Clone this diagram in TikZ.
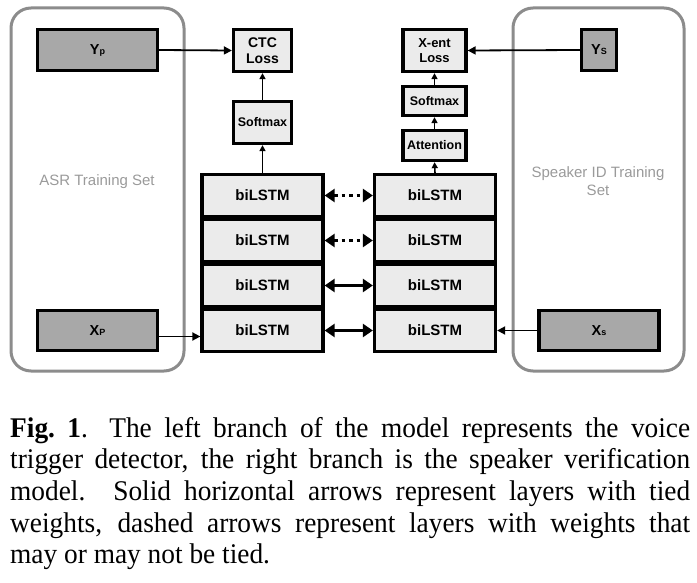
\documentclass[tikz,border=0pt]{standalone}
\usepackage{fontspec}
\setmainfont{Liberation Serif}[FakeStretch=0.96]
\newfontfamily\labfont{Liberation Sans}
\usetikzlibrary{arrows.meta}
\definecolor{framegray}{HTML}{8C8C8C}
\definecolor{textgray}{HTML}{9A9A9A}
\definecolor{darkfill}{HTML}{A8A8A8}
\definecolor{lightfill}{HTML}{EBEBEB}
\tikzset{
  frame/.style={draw=framegray, line width=3pt, rounded corners=20pt},
  lbox/.style={draw=black, fill=lightfill, line width=3.3pt, inner sep=0pt, align=center,
    font=\labfont\bfseries\fontsize{12.5}{14.5}\selectfont},
  lstm/.style={lbox, minimum width=121pt, minimum height=41.5pt, font=\labfont\bfseries\fontsize{15}{18}\selectfont},
  dbox/.style={draw=black, fill=darkfill, line width=3.3pt, inner sep=0pt, minimum height=40.5pt,
    font=\labfont\bfseries\fontsize{14.5}{17}\selectfont},
  flow/.style={line width=1.6pt, -{Triangle[length=6pt,width=6pt]}},
  inarrow/.style={line width=1.8pt, -{Triangle[length=8pt,width=8pt]}},
  tie/.style={line width=3.2pt, {Triangle[length=10pt,width=13pt]}-{Triangle[length=10pt,width=13pt]}},
  tiedot/.style={tie, dash pattern=on 3.5pt off 4pt},
  settext/.style={text=textgray, font=\labfont\fontsize{15}{18}\selectfont, align=center}
}
\newcommand{\smallsub}[1]{{\fontsize{9}{9}\selectfont #1}}
\begin{document}
\begin{tikzpicture}[x=1pt,y=-1pt]
\useasboundingbox (0,0) rectangle (697,583);
% frames
\draw[frame] (11,8) rectangle (184,371);
\draw[frame] (513,8) rectangle (684,371);
\node[settext] (asr) at (97,182) {ASR Training Set};
\node[settext] (spk) at (598,181) {Speaker ID Training\\Set};
% data boxes
\node[dbox, minimum width=120pt] (Yp) at (97.5,50) {Y\smallsub{p}};
\node[dbox, minimum width=120pt] (Xp) at (97.5,330.5) {X\smallsub{P}};
\node[dbox, minimum width=35pt] (Ys) at (599,50) {Y\smallsub{S}};
\node[dbox, minimum width=120pt] (Xs) at (599,330.5) {X\smallsub{s}};
% left stack
\node[lbox, minimum width=58pt, minimum height=42pt, font=\labfont\bfseries\fontsize{14}{16}\selectfont] (ctc) at (262.5,50.5) {CTC\\Loss};
\node[lbox, minimum width=58pt, minimum height=42pt] (smL) at (262.5,122.5) {Softmax};
\node[lstm] (L1) at (262.5,195.5) {biLSTM};
\node[lstm] (L2) at (262.5,240.5) {biLSTM};
\node[lstm] (L3) at (262.5,285.5) {biLSTM};
\node[lstm] (L4) at (262.5,330.5) {biLSTM};
% right stack
\node[lbox, minimum width=63pt, minimum height=42pt, font=\labfont\bfseries\fontsize{13}{15}\selectfont] (xent) at (434.5,50.5) {X-ent\\Loss};
\node[lbox, minimum width=63pt, minimum height=29pt] (smR) at (434.5,101) {Softmax};
\node[lbox, minimum width=63pt, minimum height=30pt] (att) at (434.5,145.5) {Attention};
\node[lstm] (R1) at (435,195.5) {biLSTM};
\node[lstm] (R2) at (435,240.5) {biLSTM};
\node[lstm] (R3) at (435,285.5) {biLSTM};
\node[lstm] (R4) at (435,330.5) {biLSTM};
% vertical flow
\draw[flow] (L1.north) -- (smL.south);
\draw[flow] (smL.north) -- (ctc.south);
\draw[flow] (R1.north) -- (att.south);
\draw[flow] (att.north) -- (smR.south);
\draw[flow] (smR.north) -- (xent.south);
% inputs and labels
\draw[inarrow] (Yp.east) -- (ctc.west);
\draw[inarrow] (Ys.west) -- (xent.east);
\draw[inarrow] ([yshift=-6pt]Xp.east) -- ([yshift=-6pt]L4.west);
\draw[inarrow] (Xs.west) -- (R4.east);
% ties
\draw[tiedot] (L1.east) -- (R1.west);
\draw[tiedot] (L2.east) -- (R2.west);
\draw[tie] (L3.east) -- (R3.west);
\draw[tie] (L4.east) -- (R4.west);
% caption
\node[anchor=base west, text width=680pt, inner sep=0pt, align=justify,
      font=\fontsize{28.5}{31.7}\selectfont] (cap) at (10,437)
{\textbf{Fig.~1}.\hspace{0.75em}The left branch of the model represents the voice\linebreak
trigger detector, the right branch is the speaker verification\linebreak
model.  Solid horizontal arrows represent layers with tied\linebreak
weights, dashed arrows represent layers with weights that\linebreak
may or may not be tied.};
\end{tikzpicture}
\end{document}
